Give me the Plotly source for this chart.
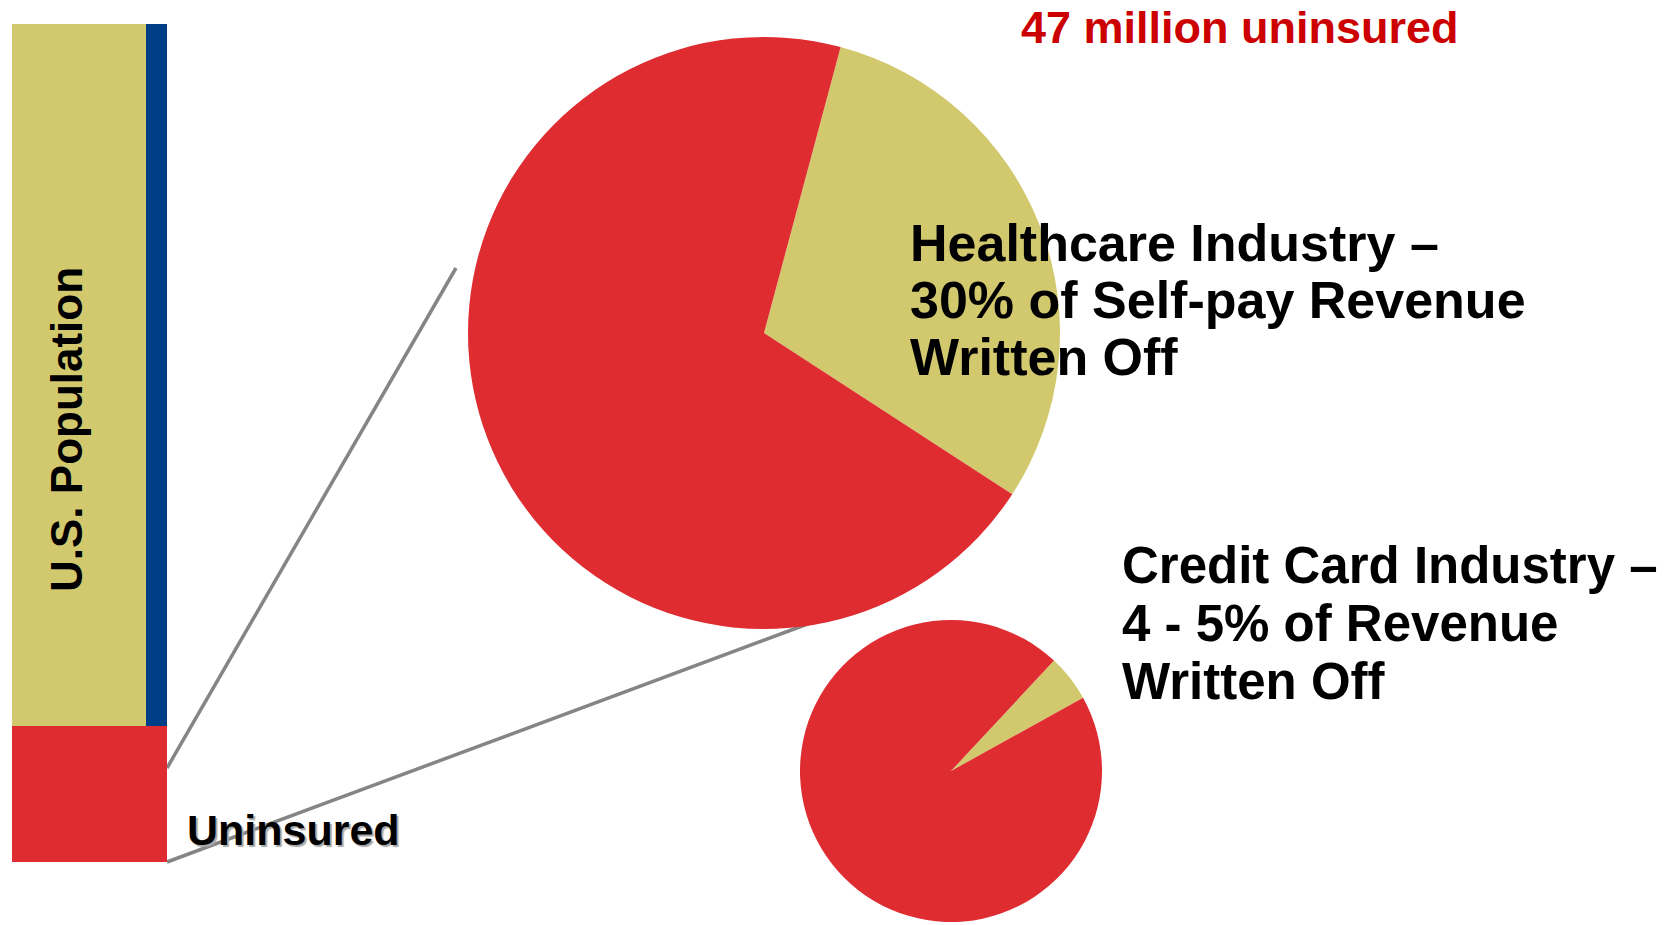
import plotly.graph_objects as go

# --- data -------------------------------------------------------------
population_labels = ["Uninsured", "Insured"]
population_millions = [47, 241]

healthcare_labels = ["Written off", "Collected"]
healthcare_share = [30, 70]

credit_card_labels = ["Written off", "Collected"]
credit_card_share = [5, 95]

# --- styling ----------------------------------------------------------
W, H = 1673, 925
RED = "#DE2C31"
TAN = "#D2C96E"
BLUE = "#003F87"
FONT = "Liberation Sans, Arial, sans-serif"


def px_x(p):
    return p / W


def px_y(p):
    return 1 - p / H


fig = go.Figure()

# stacked population column: uninsured at the bottom, insured above it
fig.add_trace(go.Bar(
    x=[0.5], y=[population_millions[0]], base=[0], width=[1.0],
    marker=dict(color=RED, line=dict(width=0)),
    name=population_labels[0], hoverinfo="skip",
))
fig.add_trace(go.Bar(
    x=[0.5], y=[population_millions[1]], base=[population_millions[0]], width=[1.0],
    marker=dict(color=TAN, line=dict(width=0)),
    name=population_labels[1], hoverinfo="skip",
))
# blue edge strip along the insured part
fig.add_trace(go.Bar(
    x=[1 - 0.0675], y=[population_millions[1]], base=[population_millions[0]], width=[0.135],
    marker=dict(color=BLUE, line=dict(width=0)),
    hoverinfo="skip",
))

# healthcare write-off pie
big_cx, big_cy, big_r = 764, 333, 296
fig.add_trace(go.Pie(
    labels=healthcare_labels, values=healthcare_share,
    marker=dict(colors=[TAN, RED], line=dict(width=0)),
    sort=False, direction="clockwise", rotation=15,
    textinfo="none", hoverinfo="skip",
    domain=dict(x=[px_x(big_cx - big_r), px_x(big_cx + big_r)],
                y=[px_y(big_cy + big_r), px_y(big_cy - big_r)]),
))

# credit card write-off pie
sm_cx, sm_cy, sm_r = 951, 771, 151
fig.add_trace(go.Pie(
    labels=credit_card_labels, values=credit_card_share,
    marker=dict(colors=[TAN, RED], line=dict(width=0)),
    sort=False, direction="clockwise", rotation=43,
    textinfo="none", hoverinfo="skip",
    domain=dict(x=[px_x(sm_cx - sm_r), px_x(sm_cx + sm_r)],
                y=[px_y(sm_cy + sm_r), px_y(sm_cy - sm_r)]),
))

total = sum(population_millions)

# zoom connector lines from the uninsured block to the big pie
line_style = dict(color="#858585", width=3.5)
shapes = [
    dict(type="line", xref="paper", yref="paper", layer="below",
         x0=px_x(167), y0=px_y(768), x1=px_x(456), y1=px_y(268), line=line_style),
    dict(type="line", xref="paper", yref="paper", layer="below",
         x0=px_x(167), y0=px_y(862), x1=px_x(813), y1=px_y(622), line=line_style),
]


def label(text, x, y, size, color="black", **kw):
    return dict(
        text=text, xref="paper", yref="paper", x=px_x(x), y=px_y(y),
        xanchor="left", yanchor="middle", showarrow=False,
        font=dict(family=FONT, size=size, color=color, weight="bold",
                  shadow=kw.pop("shadow", "none")),
        **kw,
    )


annotations = [
    label("47 million uninsured", 1019, 27, 45, color="#CC0000"),
    label("Healthcare Industry \u2013", 908, 243, 52),
    label("30% of Self-pay Revenue", 908, 300, 52),
    label("Written Off", 908, 357, 52),
    label("Credit Card Industry \u2013", 1120, 565, 51),
    label("4 - 5% of Revenue", 1120, 623, 51),
    label("Written Off", 1120, 681, 51),
    label("Uninsured", 185, 830, 43, shadow="2px 2px 1px #a8a8a8"),
    dict(text="U.S. Population", xref="paper", yref="paper",
         x=px_x(66), y=px_y(430), xanchor="center", yanchor="middle",
         textangle=-90, showarrow=False,
         font=dict(family=FONT, size=44, color="black", weight="bold")),
]

fig.update_layout(
    width=W, height=H, autosize=False,
    margin=dict(l=0, r=0, t=0, b=0, pad=0),
    paper_bgcolor="white", plot_bgcolor="white",
    showlegend=False, barmode="overlay", bargap=0,
    xaxis=dict(domain=[px_x(12), px_x(167)], range=[0, 1], visible=False, fixedrange=True),
    yaxis=dict(domain=[px_y(862), px_y(23.5)], range=[0, total], visible=False, fixedrange=True),
    shapes=shapes,
    annotations=annotations,
)

fig.write_html("out.html")
